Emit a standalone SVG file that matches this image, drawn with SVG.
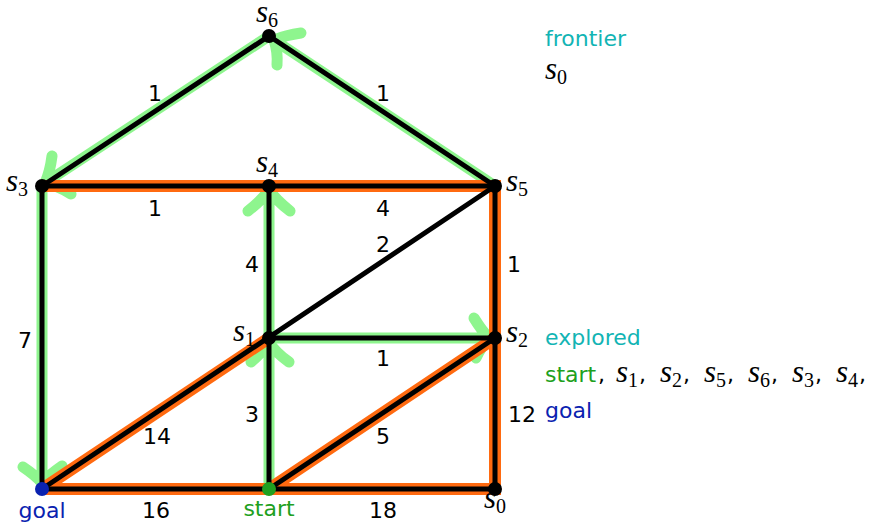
<svg xmlns="http://www.w3.org/2000/svg" width="873" height="525" viewBox="0 0 873 525">
<style>
.g{stroke:#8ef58e;stroke-width:11;fill:none;stroke-linecap:round;stroke-linejoin:round}
.o{stroke:#ff6a10;stroke-width:12;fill:none}
.k{stroke:#000;stroke-width:5;fill:none}
.w{font-family:"DejaVu Sans",sans-serif;font-size:22px;fill:#000;text-anchor:middle}
.m{font-family:"Liberation Serif",serif;font-style:italic;font-size:31px;fill:#000}
.sub{font-style:normal;font-size:20px}
.t{font-family:"DejaVu Sans",sans-serif;font-size:22px}
</style>
<rect width="873" height="525" fill="#fff"/>
<g id="connectors">
  <g id="search-tree">
    <path class="g" d="M269,489 V343 M251,362 Q263,352 269,342 Q275,352 289,362"/>
    <path class="g" d="M269,338 V190 M248,211 Q262,200 269,190 Q276,200 290,211"/>
    <path class="g" d="M269,338 H489 M474,318 Q482,331 489,338 Q482,345 476,358"/>
    <path class="g" d="M495,186 L274,40 M301,33 Q286,35 274,40 Q278,52 277,65"/>
    <path class="g" d="M269,36 L45,183 M52,156 Q50,172 45,183 Q58,186 71,194"/>
    <path class="g" d="M42,186 V482 M23,467 Q35,475 42,483 Q49,475 62,466"/>
  </g>
  <g id="path-highlight">
    <path class="o" d="M42,186 H495 V489 H42"/>
    <path class="o" d="M42,489 L269,338 M269,489 L495,338"/>
  </g>
  <g id="edges">
    <path class="k" d="M42,186 L269,36 L495,186"/>
    <path class="k" d="M42,186 H495 V489 H42 Z"/>
    <path class="k" d="M269,186 V489 M269,338 H495"/>
    <path class="k" d="M42,489 L495,186 M269,489 L495,338"/>
  </g>
  <g id="edge-labels" class="w">
    <text x="155" y="101">1</text>
    <text x="383" y="101">1</text>
    <text x="155" y="216">1</text>
    <text x="383" y="216">4</text>
    <text x="383" y="252">2</text>
    <text x="252" y="272">4</text>
    <text x="514" y="272">1</text>
    <text x="25" y="348">7</text>
    <text x="383" y="366">1</text>
    <text x="252" y="422">3</text>
    <text x="383" y="444">5</text>
    <text x="522" y="422">12</text>
    <text x="157" y="444">14</text>
    <text x="156" y="518">16</text>
    <text x="383" y="518">18</text>
  </g>
</g>
<g id="s6"><circle cx="269" cy="36" r="7"/><text class="m" x="256" y="22">s<tspan class="sub" dy="5">6</tspan></text></g>
<g id="s3"><circle cx="42" cy="186" r="7"/><text class="m" x="6" y="191">s<tspan class="sub" dy="5">3</tspan></text></g>
<g id="s4"><circle cx="269" cy="186" r="7"/><text class="m" x="256" y="172">s<tspan class="sub" dy="5">4</tspan></text></g>
<g id="s5"><circle cx="495" cy="186" r="7"/><text class="m" x="506" y="191">s<tspan class="sub" dy="5">5</tspan></text></g>
<g id="s1"><circle cx="269" cy="338" r="7"/><text class="m" x="233" y="341">s<tspan class="sub" dy="5">1</tspan></text></g>
<g id="s2"><circle cx="495" cy="338" r="7"/><text class="m" x="506" y="342">s<tspan class="sub" dy="5">2</tspan></text></g>
<g id="s0"><circle cx="495" cy="489" r="7"/><text class="m" x="484" y="508">s<tspan class="sub" dy="5">0</tspan></text></g>
<g id="goal"><circle cx="42" cy="489" r="7" fill="#0a22b0"/><text class="t" x="42" y="518" text-anchor="middle" fill="#0a22b0">goal</text></g>
<g id="start"><circle cx="269" cy="489" r="7" fill="#20a020"/><text class="t" x="269" y="516" text-anchor="middle" fill="#20a020">start</text></g>
<g id="legend">
  <text class="t" x="545" y="46" fill="#12b4b4">frontier</text>
  <text class="m" x="545" y="79">s<tspan class="sub" dy="5">0</tspan></text>
  <text class="t" x="545" y="345" fill="#12b4b4">explored</text>
  <text class="t" x="545" y="382" fill="#20a020">start</text>
  <text class="t" x="598" y="382">,</text>
  <text class="m" x="616" y="382">s<tspan class="sub" dy="5">1</tspan></text>
  <text class="t" x="639" y="382">,</text>
  <text class="m" x="660" y="382">s<tspan class="sub" dy="5">2</tspan></text>
  <text class="t" x="683" y="382">,</text>
  <text class="m" x="704" y="382">s<tspan class="sub" dy="5">5</tspan></text>
  <text class="t" x="727" y="382">,</text>
  <text class="m" x="748" y="382">s<tspan class="sub" dy="5">6</tspan></text>
  <text class="t" x="771" y="382">,</text>
  <text class="m" x="792" y="382">s<tspan class="sub" dy="5">3</tspan></text>
  <text class="t" x="815" y="382">,</text>
  <text class="m" x="836" y="382">s<tspan class="sub" dy="5">4</tspan></text>
  <text class="t" x="859" y="382">,</text>
  <text class="t" x="545" y="418" fill="#0a22b0">goal</text>
</g>
</svg>
